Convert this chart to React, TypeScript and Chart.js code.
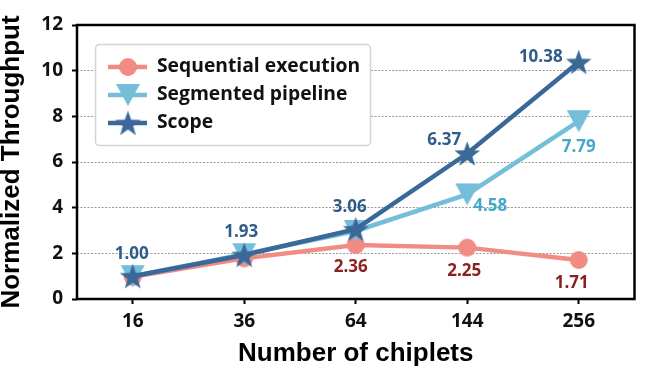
import { useEffect, useRef } from 'react';
import { Chart, registerables } from 'chart.js';

Chart.register(...registerables);

// ---- data ----
const categories = ['16', '36', '64', '144', '256'];
const seriesNames = ['Sequential execution', 'Segmented pipeline', 'Scope'];
const sequential = [0.97, 1.78, 2.36, 2.25, 1.71];
const segmented = [1.0, 1.96, 2.98, 4.58, 7.79];
const scope = [1.0, 1.93, 3.06, 6.37, 10.38];
const yMin = 0;
const yMax = 12;
const yStep = 2;

// which points carry a value label
const sequentialLabeled = [false, false, true, true, true];
const segmentedLabeled = [false, false, false, true, true];
const scopeLabeled = [true, true, true, true, true];

// ---- styles ----
const colors = {
  sequential: '#F08C84',
  segmented: '#74BEDA',
  scope: '#3A6898',
};
const labelColors = {
  sequential: '#8B2222',
  segmented: '#45A8CA',
  scope: '#2F5C88',
};
// label offsets (px) relative to the point
const sequentialOffsets = [[0, 0], [0, 0], [-5, 22], [-3, 24], [-7, 23]];
const segmentedOffsets = [[0, 0], [0, 0], [0, 0], [23, 12], [0, 26]];
const scopeOffsets = [[-1, -22], [-3, -23], [-6, -22], [-23, -13], [-38, -5]];

const TICK_FONT = '"Open Sans"';
const TITLE_FONT = '"Liberation Sans", Arial, sans-serif';

function makeCanvas(size: number) {
  const c = document.createElement('canvas');
  c.width = size;
  c.height = size;
  return c;
}

function circleMarker(color: string, r: number) {
  const s = Math.ceil(r * 2 + 2);
  const c = makeCanvas(s);
  const ctx = c.getContext('2d')!;
  ctx.fillStyle = color;
  ctx.beginPath();
  ctx.arc(s / 2, s / 2, r, 0, Math.PI * 2);
  ctx.fill();
  return c;
}

function triangleDownMarker(color: string, w: number, h: number) {
  const s = Math.ceil(Math.max(w, h) + 2);
  const c = makeCanvas(s);
  const ctx = c.getContext('2d')!;
  const cx = s / 2;
  const cy = s / 2;
  ctx.fillStyle = color;
  ctx.beginPath();
  ctx.moveTo(cx - w / 2, cy - h / 2);
  ctx.lineTo(cx + w / 2, cy - h / 2);
  ctx.lineTo(cx, cy + h / 2);
  ctx.closePath();
  ctx.fill();
  return c;
}

function starMarker(color: string, R: number) {
  const s = Math.ceil(R * 2 + 2);
  const c = makeCanvas(s);
  const ctx = c.getContext('2d')!;
  const cx = s / 2;
  const cy = s / 2 + R * 0.09;
  const r = R * 0.4;
  ctx.fillStyle = color;
  ctx.beginPath();
  for (let i = 0; i < 10; i++) {
    const rad = i % 2 === 0 ? R : r;
    const a = -Math.PI / 2 + (i * Math.PI) / 5;
    const x = cx + rad * Math.cos(a);
    const y = cy + rad * Math.sin(a);
    if (i === 0) ctx.moveTo(x, y);
    else ctx.lineTo(x, y);
  }
  ctx.closePath();
  ctx.fill();
  return c;
}

export default function App() {
  const ref = useRef<HTMLCanvasElement | null>(null);

  useEffect(() => {
    const canvas = ref.current;
    if (!canvas) return;

    const markers = [
      circleMarker(colors.sequential, 9),
      triangleDownMarker(colors.segmented, 24, 22),
      starMarker(colors.scope, 13.5),
    ];
    const lineColors = [colors.sequential, colors.segmented, colors.scope];
    const lblColors = [labelColors.sequential, labelColors.segmented, labelColors.scope];
    const labeled = [sequentialLabeled, segmentedLabeled, scopeLabeled];
    const offsets = [sequentialOffsets, segmentedOffsets, scopeOffsets];

    const frame = {
      id: 'frame',
      afterDatasetsDraw(chart: any) {
        const { ctx, chartArea: a } = chart;
        ctx.save();
        ctx.strokeStyle = '#000';
        ctx.lineWidth = 2.5;
        ctx.strokeRect(a.left, a.top, a.right - a.left, a.bottom - a.top);
        ctx.restore();
      },
    };

    const valueLabels = {
      id: 'valueLabels',
      afterDatasetsDraw(chart: any) {
        const { ctx } = chart;
        ctx.save();
        ctx.font = `bold 17px ${TICK_FONT}`;
        ctx.textAlign = 'center';
        ctx.textBaseline = 'middle';
        chart.data.datasets.forEach((ds: any, di: number) => {
          const meta = chart.getDatasetMeta(di);
          meta.data.forEach((pt: any, i: number) => {
            if (!labeled[di][i]) return;
            const [dx, dy] = offsets[di][i];
            ctx.fillStyle = lblColors[di];
            ctx.fillText((ds.data[i] as number).toFixed(2), pt.x + dx, pt.y + dy);
          });
        });
        ctx.restore();
      },
    };

    const legendBox = {
      id: 'legendBox',
      afterDraw(chart: any) {
        const { ctx } = chart;
        const x0 = 95.5, y0 = 44.5, w = 275, h = 101;
        ctx.save();
        ctx.fillStyle = '#fff';
        ctx.strokeStyle = '#d4d4d4';
        ctx.lineWidth = 1.5;
        ctx.beginPath();
        (ctx as any).roundRect(x0, y0, w, h, 4);
        ctx.fill();
        ctx.stroke();
        chart.data.datasets.forEach((ds: any, i: number) => {
          const y = 67 + i * 28;
          ctx.strokeStyle = lineColors[i];
          ctx.lineWidth = 4.5;
          ctx.beginPath();
          ctx.moveTo(108, y);
          ctx.lineTo(147, y);
          ctx.stroke();
          const m = markers[i];
          ctx.drawImage(m, 128 - m.width / 2, y - m.height / 2);
          ctx.fillStyle = '#111';
          ctx.font = `bold 19.3px ${TICK_FONT}`;
          ctx.textAlign = 'left';
          ctx.textBaseline = 'middle';
          ctx.fillText(ds.label, 157, y);
        });
        ctx.restore();
      },
    };

    const series = [sequential, segmented, scope];
    const chart = new Chart(canvas, {
      type: 'line',
      data: {
        labels: categories,
        datasets: series.map((d, i) => ({
          label: seriesNames[i],
          data: d,
          borderColor: lineColors[i],
          backgroundColor: lineColors[i],
          borderWidth: 4.5,
          pointStyle: markers[i] as any,
          pointRadius: 10,
          pointHoverRadius: 10,
          tension: 0,
          fill: false,
          order: 3 - i,
        })),
      },
      options: {
        responsive: false,
        animation: false,
        events: [],
        layout: { padding: { top: 25, right: 10, left: 0, bottom: 0 } },
        plugins: {
          legend: { display: false },
          tooltip: { enabled: false },
        },
        scales: {
          x: {
            type: 'category',
            offset: true,
            afterFit(scale: any) {
              scale.height = 82;
            },
            grid: {
              drawOnChartArea: false,
              drawTicks: true,
              tickLength: 5,
              tickColor: '#000',
              tickWidth: 2,
            },
            border: { display: false },
            ticks: {
              color: '#111',
              padding: 6,
              font: { family: TICK_FONT, weight: 'bold', size: 19 },
            },
            title: {
              display: true,
              text: 'Number of chiplets',
              color: '#000',
              font: { family: TITLE_FONT, weight: 'bold', size: 26, lineHeight: 1.2 },
              padding: { top: 0, bottom: 12 },
            },
          },
          y: {
            min: yMin,
            max: yMax,
            afterFit(scale: any) {
              scale.width = 77;
            },
            grid: {
              color: '#9a9a9a',
              lineWidth: 1,
              drawTicks: true,
              tickLength: 5,
              tickColor: '#000',
              tickWidth: 2,
              tickBorderDash: [],
            } as any,
            border: { display: false, dash: [2, 1.5] },
            ticks: {
              stepSize: yStep,
              color: '#111',
              padding: 9,
              font: { family: TICK_FONT, weight: 'bold', size: 19 },
            },
            title: {
              display: true,
              text: 'Normalized Throughput',
              color: '#000',
              font: { family: TITLE_FONT, weight: 'bold', size: 26, lineHeight: 0.8 },
              padding: { top: 1.5, bottom: 0 },
            },
          },
        },
      },
      plugins: [frame, valueLabels, legendBox],
    });

    return () => chart.destroy();
  }, []);

  return (
    <div style={{ position: 'absolute', left: 0, top: 0, width: 649, height: 381, background: '#fff' }}>
      <canvas ref={ref} width={649} height={381} style={{ width: 649, height: 381, display: 'block' }} />
    </div>
  );
}
